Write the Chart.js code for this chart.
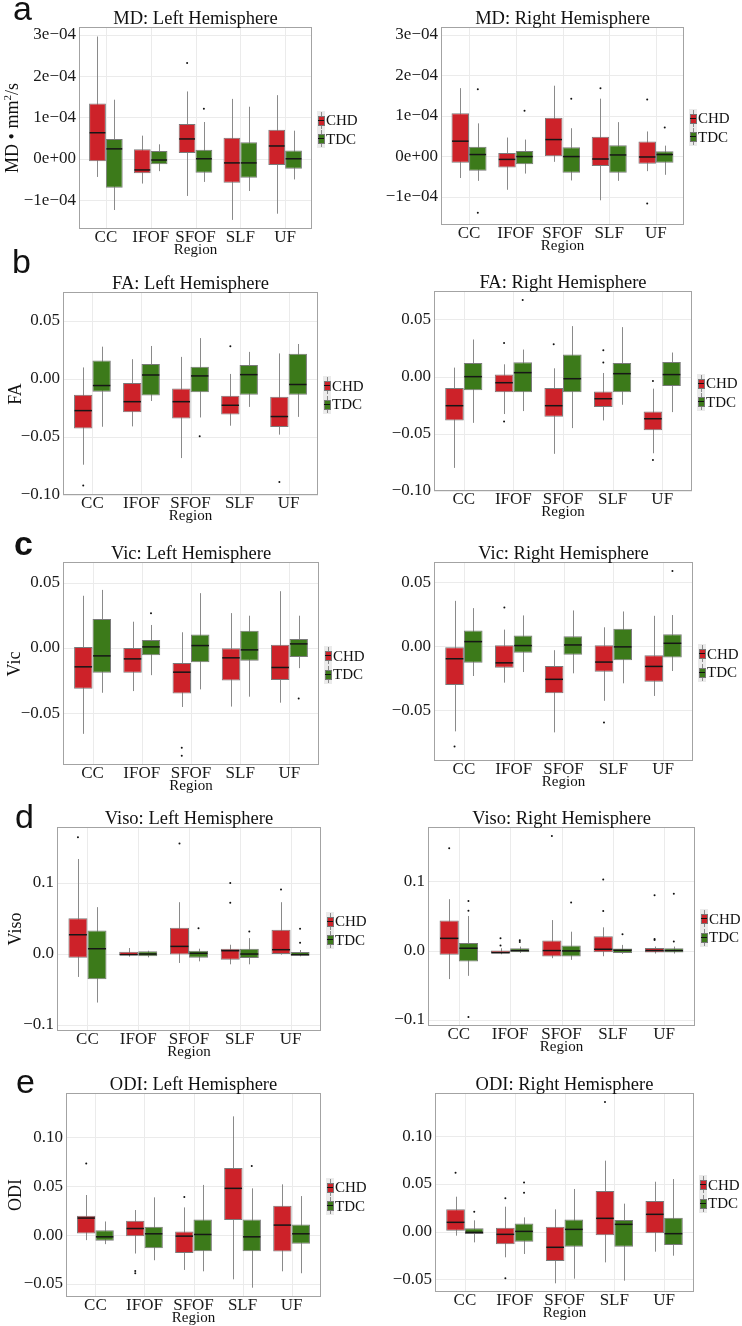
<!DOCTYPE html>
<html>
<head>
<meta charset="utf-8">
<script src="https://cdn.jsdelivr.net/npm/chart.js@4.4.0/dist/chart.umd.min.js"></script>
<style>
  body { margin: 0; background: #fff; }
  #fig { position: relative; width: 742px; height: 1326px; overflow: hidden; font-family: 'Liberation Serif', 'DejaVu Serif', serif; color: #111; }
  #fig canvas { position: absolute; }
  .t { position: absolute; white-space: nowrap; line-height: 1; }
  .title { font-size: 18.5px; transform: translateX(-50%); }
  .region { font-size: 15px; transform: translate(-50%, -50%); }
  .ylab { font-size: 18px; transform: translate(-50%, -50%) rotate(-90deg); }
  .ylab sup { font-size: 11px; vertical-align: 7px; line-height: 0; }
  .letter { font-family: 'Liberation Sans', Arial, sans-serif; font-size: 34px; }
  .leg { font-size: 15px; transform: translateY(-50%); }
  .key { position: absolute; width: 8px; height: 19px; background: #ebebeb; }
  .key i { position: absolute; left: 3.5px; top: 1px; width: 1px; height: 17px; background: #8a8a8a; }
  .key b { position: absolute; left: 1px; top: 5px; width: 5px; height: 8px; border: 0.5px solid #777; }
  .key u { position: absolute; left: 1px; top: 9px; width: 6px; height: 1px; background: #111; }
</style>
</head>
<body>
<div id="fig"></div>
<script>
// categories and groups
const regions = ['CC', 'IFOF', 'SFOF', 'SLF', 'UF'];
const groups = ['CHD', 'TDC'];

// each box: [lower whisker, Q1, median, Q3, upper whisker]
// ---- MD ----
const mdLeftCHD = [[-0.44e-4, -0.06e-4, 0.63e-4, 1.34e-4, 2.96e-4], [-0.60e-4, -0.35e-4, -0.27e-4, 0.23e-4, 0.56e-4], [-0.90e-4, 0.14e-4, 0.48e-4, 0.84e-4, 1.63e-4], [-1.48e-4, -0.58e-4, -0.10e-4, 0.51e-4, 1.45e-4], [-1.33e-4, -0.15e-4, 0.31e-4, 0.70e-4, 1.54e-4]];
const mdLeftCHDOut = [[], [], [2.32e-4], [], []];
const mdLeftTDC = [[-1.24e-4, -0.70e-4, 0.24e-4, 0.48e-4, 1.43e-4], [-0.30e-4, -0.13e-4, -0.03e-4, 0.19e-4, 0.35e-4], [-0.56e-4, -0.34e-4, 0.0, 0.22e-4, 0.89e-4], [-0.78e-4, -0.46e-4, -0.10e-4, 0.40e-4, 1.26e-4], [-0.50e-4, -0.24e-4, 0.0, 0.20e-4, 0.68e-4]];
const mdLeftTDCOut = [[], [], [1.21e-4], [], []];
const mdRightCHD = [[-0.54e-4, -0.16e-4, 0.37e-4, 1.06e-4, 1.68e-4], [-0.83e-4, -0.28e-4, -0.08e-4, 0.08e-4, 0.46e-4], [-0.14e-4, 0.0, 0.41e-4, 0.95e-4, 1.74e-4], [-1.09e-4, -0.24e-4, -0.07e-4, 0.48e-4, 1.42e-4], [-0.37e-4, -0.19e-4, -0.02e-4, 0.36e-4, 0.61e-4]];
const mdRightCHDOut = [[], [], [], [1.68e-4], [1.40e-4, -1.17e-4]];
const mdRightTDC = [[-0.61e-4, -0.36e-4, 0.04e-4, 0.23e-4, 0.81e-4], [-0.43e-4, -0.20e-4, -0.01e-4, 0.13e-4, 0.41e-4], [-0.60e-4, -0.41e-4, -0.01e-4, 0.22e-4, 0.69e-4], [-0.61e-4, -0.41e-4, 0.03e-4, 0.27e-4, 0.84e-4], [-0.46e-4, -0.16e-4, 0.04e-4, 0.12e-4, 0.26e-4]];
const mdRightTDCOut = [[1.65e-4, -1.40e-4], [1.12e-4], [1.42e-4], [], [0.71e-4]];
const mdTicks = [-1e-4, 0, 1e-4, 2e-4, 3e-4];
const mdTickLabels = ['\u22121e\u221204', '0e+00', '1e\u221204', '2e\u221204', '3e\u221204'];

// ---- FA ----
const faLeftCHD = [[-0.0739, -0.0426, -0.0273, -0.0136, 0.0099], [-0.0409, -0.0287, -0.0196, -0.0034, 0.017], [-0.0682, -0.0341, -0.0196, -0.0082, 0.019], [-0.0403, -0.0307, -0.0227, -0.0145, 0.0043], [-0.048, -0.0415, -0.0324, -0.0153, 0.022]];
const faLeftCHDOut = [[-0.0918], [], [], [0.0281], [-0.0889]];
const faLeftTDC = [[-0.0412, -0.0111, -0.0057, 0.0159, 0.0278], [-0.019, -0.0142, 0.0034, 0.0128, 0.0284], [-0.0332, -0.0114, 0.0026, 0.0105, 0.0352], [-0.0241, -0.0136, 0.0037, 0.0119, 0.0233], [-0.0327, -0.0136, -0.0048, 0.0216, 0.0301]];
const faLeftTDCOut = [[], [], [-0.0494], [], []];
const faRightCHD = [[-0.0798, -0.0383, -0.0254, -0.0099, 0.0079], [-0.0327, -0.0137, -0.0053, 0.0018, 0.0108], [-0.0675, -0.0351, -0.0254, -0.0099, 0.0073], [-0.0383, -0.0266, -0.0193, -0.0129, 0.0032], [-0.067, -0.0468, -0.0368, -0.0304, -0.0105]];
const faRightCHDOut = [[], [0.0295, -0.0392], [0.0284], [0.0231, 0.0123], [-0.0038, -0.0728]];
const faRightTDC = [[-0.0404, -0.012, 0.0, 0.012, 0.0325], [-0.0301, -0.0137, 0.0035, 0.0126, 0.0237], [-0.045, -0.0137, -0.0018, 0.0193, 0.0442], [-0.0246, -0.0137, 0.0026, 0.012, 0.0433], [-0.031, -0.0082, 0.0018, 0.0129, 0.0211]];
const faRightTDCOut = [[], [0.067], [], [], []];
const faTicks = [-0.10, -0.05, 0.00, 0.05];
const faTickLabels = ['\u22120.10', '\u22120.05', '0.00', '0.05'];

// ---- Vic ----
const vicLeftCHD = [[-0.0659, -0.0313, -0.0145, 0.0008, 0.040], [-0.0331, -0.0191, -0.0084, 0.0, 0.0201], [-0.0453, -0.0349, -0.0186, -0.0115, 0.012], [-0.045, -0.0249, -0.0076, -0.0003, 0.0267], [-0.042, -0.0247, -0.015, 0.0025, 0.0435]];
const vicLeftCHDOut = [[], [], [-0.0766, -0.0827], [], []];
const vicLeftTDC = [[-0.0344, -0.0191, -0.0061, 0.0221, 0.0445], [-0.0209, -0.0056, 0.0008, 0.0061, 0.0176], [-0.0318, -0.0109, 0.0018, 0.0102, 0.042], [-0.0374, -0.0099, -0.0015, 0.0132, 0.0247], [-0.0155, -0.0069, 0.0031, 0.0069, 0.0247]];
const vicLeftTDCOut = [[], [0.0265], [], [], [-0.0387]];
const vicRightCHD = [[-0.0666, -0.0303, -0.0098, -0.0008, 0.0355], [-0.0285, -0.0168, -0.013, 0.0008, 0.013], [-0.0674, -0.0368, -0.0259, -0.0155, -0.0031], [-0.0427, -0.02, -0.0124, 0.0008, 0.0148], [-0.0389, -0.0277, -0.0158, -0.007, 0.0238]];
const vicRightCHDOut = [[-0.0785], [0.0303], [], [-0.0596], []];
const vicRightTDC = [[-0.0233, -0.013, 0.0036, 0.0124, 0.0298], [-0.0202, -0.0052, 0.0005, 0.0083, 0.0241], [-0.0212, -0.0067, 0.001, 0.0078, 0.028], [-0.029, -0.0109, -0.0005, 0.0137, 0.0272], [-0.0194, -0.0088, 0.0023, 0.0093, 0.0244]];
const vicRightTDCOut = [[], [], [], [], [0.0588]];
const vicTicks = [-0.05, 0.00, 0.05];
const vicTickLabels = ['\u22120.05', '0.00', '0.05'];

// ---- Viso ----
const visoLeftCHD = [[-0.0328, -0.0056, 0.0267, 0.050, 0.1335], [-0.0042, -0.0023, -0.0014, 0.0028, 0.008], [-0.0131, -0.001, 0.0103, 0.0365, 0.0726], [-0.015, -0.0084, 0.0042, 0.007, 0.0126], [-0.0014, -0.0005, 0.0056, 0.0337, 0.0726]];
const visoLeftCHDOut = [[0.164], [], [0.1555], [0.0998, 0.0717], [0.0904]];
const visoLeftTDC = [[-0.0689, -0.0361, 0.007, 0.0328, 0.0656], [-0.0052, -0.0037, -0.0005, 0.0033, 0.0042], [-0.0108, -0.0056, 0.0005, 0.0042, 0.007], [-0.015, -0.0061, -0.0005, 0.007, 0.022], [-0.0037, -0.0028, -0.0014, 0.0023, 0.0052]];
const visoLeftTDCOut = [[], [], [0.036], [0.0314], [0.0351, 0.0155]];
const visoRightCHD = [[-0.0412, -0.0062, 0.0177, 0.0436, 0.0743], [-0.0053, -0.0043, -0.003, 0.0, 0.0034], [-0.011, -0.0086, 0.0, 0.0144, 0.0441], [-0.0082, -0.0024, 0.0019, 0.0206, 0.0336], [-0.0043, -0.0029, 0.0, 0.0038, 0.0058]];
const visoRightCHDOut = [[0.148], [0.0177, 0.0072], [0.1655], [0.1026, 0.0571], [0.080, 0.0168, 0.0153]];
const visoRightTDC = [[-0.0365, -0.0158, 0.0034, 0.011, 0.05], [-0.0034, -0.0024, 0.0, 0.0034, 0.0058], [-0.0134, -0.0086, -0.0005, 0.0072, 0.0273], [-0.0048, -0.0034, 0.0005, 0.0029, 0.0082], [-0.0043, -0.0029, 0.0, 0.0034, 0.0058]];
const visoRightTDCOut = [[0.0715, 0.0576, -0.096], [0.0149, 0.0125], [0.0695], [0.0235], [0.082, 0.013]];
const visoTicks = [-0.1, 0.0, 0.1];
const visoTickLabels = ['\u22120.1', '0.0', '0.1'];

// ---- ODI ----
const odiLeftCHD = [[-0.0051, 0.0017, 0.0175, 0.0199, 0.0411], [-0.0188, -0.001, 0.0068, 0.0147, 0.0257], [-0.0356, -0.0182, -0.001, 0.0038, 0.0284], [-0.0452, 0.0154, 0.0479, 0.0688, 0.1216], [-0.037, -0.0168, 0.0103, 0.0301, 0.052]];
const odiLeftCHDOut = [[0.0733], [-0.0366, -0.039], [0.039], [], []];
const odiLeftTDC = [[-0.0092, -0.0058, -0.0017, 0.0051, 0.014], [-0.0257, -0.0134, 0.0014, 0.0086, 0.0387], [-0.037, -0.0164, 0.0007, 0.0161, 0.0514], [-0.0538, -0.0164, -0.0017, 0.0161, 0.0479], [-0.039, -0.0089, 0.0014, 0.011, 0.04]];
const odiLeftTDCOut = [[], [], [], [0.0709], []];
const odiRightCHD = [[-0.0042, 0.001, 0.0098, 0.0234, 0.0367], [-0.0269, -0.0133, -0.0028, 0.0042, 0.0262], [-0.0542, -0.0308, -0.0164, 0.0052, 0.0234], [-0.0322, -0.0038, 0.014, 0.0427, 0.0745], [-0.021, -0.0017, 0.0182, 0.0322, 0.0524]];
const odiRightCHDOut = [[0.0619], [0.035, -0.049], [], [0.136], []];
const odiRightTDC = [[-0.0112, -0.0024, -0.0007, 0.0035, 0.0119], [-0.0234, -0.0105, 0.0003, 0.0087, 0.015], [-0.0493, -0.0157, 0.0024, 0.0129, 0.0448], [-0.0514, -0.0157, 0.0077, 0.0122, 0.0294], [-0.0252, -0.014, -0.0021, 0.0147, 0.0552]];
const odiRightTDCOut = [[0.021], [0.0517, 0.0409], [], [], []];
const odiTicks = [-0.05, 0.00, 0.05, 0.10];
const odiTickLabels = ['\u22120.05', '0.00', '0.05', '0.10'];

const CHD_COLOR = '#CD2229';
const TDC_COLOR = '#3C7A1A';
const BOX_LINE = '#7a7a7a';
const WHISKER = '#8a8a8a';
const GRID = '#ebebeb';
const FONT = "'Liberation Serif', 'DejaVu Serif', serif";
const TOP_PAD = 22;

// panel layout: plot rectangle in page pixels (L, T, R, B), y limits
const panels = [
  { letter: 'a', title: 'MD: Left Hemisphere', ylab: 'MD \u2022 mm<sup>2</sup>/s', col: 0, L: 79, T: 27, R: 312, B: 229, min: -1.70e-4, max: 3.19e-4, ticks: mdTicks, labels: mdTickLabels, chd: mdLeftCHD, chdOut: mdLeftCHDOut, tdc: mdLeftTDC, tdcOut: mdLeftTDCOut, lx: 13, ly: 20, ylx: 12 },
  { title: 'MD: Right Hemisphere', col: 371, L: 441, T: 27, R: 684, B: 225, min: -1.70e-4, max: 3.19e-4, ticks: mdTicks, labels: mdTickLabels, chd: mdRightCHD, chdOut: mdRightCHDOut, tdc: mdRightTDC, tdcOut: mdRightTDCOut },
  { letter: 'b', title: 'FA: Left Hemisphere', ylab: 'FA', col: 0, L: 63, T: 292, R: 318, B: 495, min: -0.100, max: 0.0749, ticks: faTicks, labels: faTickLabels, chd: faLeftCHD, chdOut: faLeftCHDOut, tdc: faLeftTDC, tdcOut: faLeftTDCOut, lx: 12, ly: 273, ylx: 15 },
  { title: 'FA: Right Hemisphere', col: 371, L: 434, T: 291, R: 692, B: 491, min: -0.100, max: 0.0749, ticks: faTicks, labels: faTickLabels, chd: faRightCHD, chdOut: faRightCHDOut, tdc: faRightTDC, tdcOut: faRightTDCOut },
  { letter: 'c', bold: true, title: 'Vic: Left Hemisphere', ylab: 'Vic', col: 0, L: 63, T: 562, R: 319, B: 765, min: -0.0898, max: 0.0659, ticks: vicTicks, labels: vicTickLabels, chd: vicLeftCHD, chdOut: vicLeftCHDOut, tdc: vicLeftTDC, tdcOut: vicLeftTDCOut, lx: 14, ly: 555, ylx: 14 },
  { title: 'Vic: Right Hemisphere', col: 371, L: 434, T: 562, R: 693, B: 761, min: -0.0898, max: 0.0659, ticks: vicTicks, labels: vicTickLabels, chd: vicRightCHD, chdOut: vicRightCHDOut, tdc: vicRightTDC, tdcOut: vicRightTDCOut },
  { letter: 'd', title: 'Viso: Left Hemisphere', ylab: 'Viso', col: 0, L: 57, T: 827, R: 321, B: 1031, min: -0.109, max: 0.1786, ticks: visoTicks, labels: visoTickLabels, chd: visoLeftCHD, chdOut: visoLeftCHDOut, tdc: visoLeftTDC, tdcOut: visoLeftTDCOut, lx: 15, ly: 828, ylx: 15 },
  { title: 'Viso: Right Hemisphere', col: 371, L: 428, T: 827, R: 695, B: 1026, min: -0.109, max: 0.1786, ticks: visoTicks, labels: visoTickLabels, chd: visoRightCHD, chdOut: visoRightCHDOut, tdc: visoRightTDC, tdcOut: visoRightTDCOut },
  { letter: 'e', title: 'ODI: Left Hemisphere', ylab: 'ODI', col: 0, L: 66, T: 1093, R: 321, B: 1297, min: -0.0633, max: 0.1455, ticks: odiTicks, labels: odiTickLabels, chd: odiLeftCHD, chdOut: odiLeftCHDOut, tdc: odiLeftTDC, tdcOut: odiLeftTDCOut, lx: 16, ly: 1093, ylx: 15 },
  { title: 'ODI: Right Hemisphere', col: 371, L: 435, T: 1093, R: 694, B: 1292, min: -0.0633, max: 0.1455, ticks: odiTicks, labels: odiTickLabels, chd: odiRightCHD, chdOut: odiRightCHDOut, tdc: odiRightTDC, tdcOut: odiRightTDCOut }
];

// ggplot pads a discrete axis by 0.6 category; chart area is inset by 0.1 band
// on each side and the panel (grid + frame) is drawn over the full width
function panelRect(chart) {
  const a = chart.chartArea;
  const inset = (a.right - a.left) / 50;
  return { left: a.left - inset, right: a.right + inset, top: a.top, bottom: a.bottom };
}

const boxPlugin = {
  id: 'boxStats',
  beforeDatasetsDraw(chart) {
    const ctx = chart.ctx, x = chart.scales.x, y = chart.scales.y;
    const r = panelRect(chart);
    ctx.save();
    ctx.strokeStyle = GRID;
    ctx.lineWidth = 1;
    y.ticks.forEach(t => {
      const py = Math.round(y.getPixelForValue(t.value)) + 0.5;
      ctx.beginPath(); ctx.moveTo(r.left, py); ctx.lineTo(r.right, py); ctx.stroke();
    });
    regions.forEach((_, i) => {
      const px = Math.round(x.getPixelForValue(i)) + 0.5;
      ctx.beginPath(); ctx.moveTo(px, r.top); ctx.lineTo(px, r.bottom); ctx.stroke();
    });
    ctx.strokeStyle = WHISKER;
    chart.data.datasets.forEach((ds, d) => {
      const meta = chart.getDatasetMeta(d);
      ds.stats.forEach((s, i) => {
        const px = Math.round(meta.data[i].x) + 0.5;
        ctx.beginPath();
        ctx.moveTo(px, y.getPixelForValue(s[0]));
        ctx.lineTo(px, y.getPixelForValue(s[4]));
        ctx.stroke();
      });
    });
    ctx.restore();
  },
  afterDatasetsDraw(chart) {
    const ctx = chart.ctx, y = chart.scales.y;
    ctx.save();
    chart.data.datasets.forEach((ds, d) => {
      const meta = chart.getDatasetMeta(d);
      ds.stats.forEach((s, i) => {
        const bar = meta.data[i];
        const my = y.getPixelForValue(s[2]);
        ctx.strokeStyle = '#161616';
        ctx.lineWidth = 1.5;
        ctx.beginPath();
        ctx.moveTo(bar.x - bar.width / 2 + 0.5, my);
        ctx.lineTo(bar.x + bar.width / 2 - 0.5, my);
        ctx.stroke();
        ctx.fillStyle = '#111';
        ds.outliers[i].forEach(v => {
          ctx.beginPath();
          ctx.arc(bar.x, y.getPixelForValue(v), 1, 0, Math.PI * 2);
          ctx.fill();
        });
      });
    });
    ctx.restore();
  },
  afterDraw(chart) {
    const r = panelRect(chart), ctx = chart.ctx;
    ctx.save();
    ctx.strokeStyle = '#a3a3a3';
    ctx.lineWidth = 1;
    ctx.strokeRect(Math.round(r.left) + 0.5, r.top + 0.5, Math.round(r.right - r.left) - 1, r.bottom - r.top - 1);
    ctx.restore();
  }
};

const fig = document.getElementById('fig');

function addText(cls, html, x, y) {
  const el = document.createElement('div');
  el.className = 't ' + cls;
  el.innerHTML = html;
  el.style.left = x + 'px';
  el.style.top = y + 'px';
  fig.appendChild(el);
  return el;
}

function addKey(x, yc, color) {
  const k = document.createElement('div');
  k.className = 'key';
  k.style.left = x + 'px';
  k.style.top = (yc - 9.5) + 'px';
  k.innerHTML = '<i></i><b style="background:' + color + '"></b><u></u>';
  fig.appendChild(k);
}

panels.forEach(p => {
  const canvas = document.createElement('canvas');
  const w = p.R + 6 - p.col;
  const h = p.B - p.T + TOP_PAD + 30;
  const inset = (p.R - p.L) / 52;
  canvas.width = w;
  canvas.height = h;
  canvas.style.left = p.col + 'px';
  canvas.style.top = (p.T - TOP_PAD) + 'px';
  canvas.style.width = w + 'px';
  canvas.style.height = h + 'px';
  fig.appendChild(canvas);

  new Chart(canvas.getContext('2d'), {
    type: 'bar',
    data: {
      labels: regions,
      datasets: [
        { label: groups[0], data: p.chd.map(s => [s[1], s[3]]), stats: p.chd, outliers: p.chdOut, backgroundColor: CHD_COLOR },
        { label: groups[1], data: p.tdc.map(s => [s[1], s[3]]), stats: p.tdc, outliers: p.tdcOut, backgroundColor: TDC_COLOR }
      ].map(ds => Object.assign(ds, { borderColor: BOX_LINE, borderWidth: 1, borderSkipped: false, categoryPercentage: 0.75, barPercentage: 1.0 }))
    },
    options: {
      responsive: false,
      animation: false,
      layout: { padding: { top: TOP_PAD, right: 6 + inset, left: 0, bottom: 0 } },
      plugins: { legend: { display: false }, title: { display: false }, tooltip: { enabled: false } },
      scales: {
        x: {
          grid: { display: false, drawTicks: false },
          border: { display: false },
          ticks: { color: '#1a1a1a', padding: 0, maxRotation: 0, minRotation: 0, autoSkip: false, font: { family: FONT, size: 17, lineHeight: 1 } },
          afterFit(scale) { scale.height = 30; }
        },
        y: {
          min: p.min,
          max: p.max,
          grid: { display: false, drawTicks: false },
          border: { display: false },
          ticks: {
            color: '#1a1a1a',
            padding: 3 + inset,
            font: { family: FONT, size: 17, lineHeight: 1 },
            callback: (v) => p.labels[p.ticks.indexOf(v)]
          },
          afterBuildTicks(scale) { scale.ticks = p.ticks.map(v => ({ value: v })); },
          afterFit(scale) { scale.width = p.L - p.col + inset; }
        }
      }
    },
    plugins: [boxPlugin]
  });

  const cx = (p.L + p.R) / 2;
  const cy = (p.T + p.B) / 2;
  addText('title', p.title, cx, p.T - 18);
  addText('region', 'Region', cx, p.B + 20);
  addKey(p.R + 5, cy - 8, CHD_COLOR);
  addKey(p.R + 5, cy + 10.5, TDC_COLOR);
  addText('leg', groups[0], p.R + 14, cy - 8);
  addText('leg', groups[1], p.R + 14, cy + 10.5);
  if (p.ylab) addText('ylab', p.ylab, p.ylx, cy);
  if (p.letter) {
    const l = addText('letter', p.letter, p.lx, p.ly - 29);
    if (p.bold) l.style.fontWeight = 'bold';
  }
});
</script>
</body>
</html>
